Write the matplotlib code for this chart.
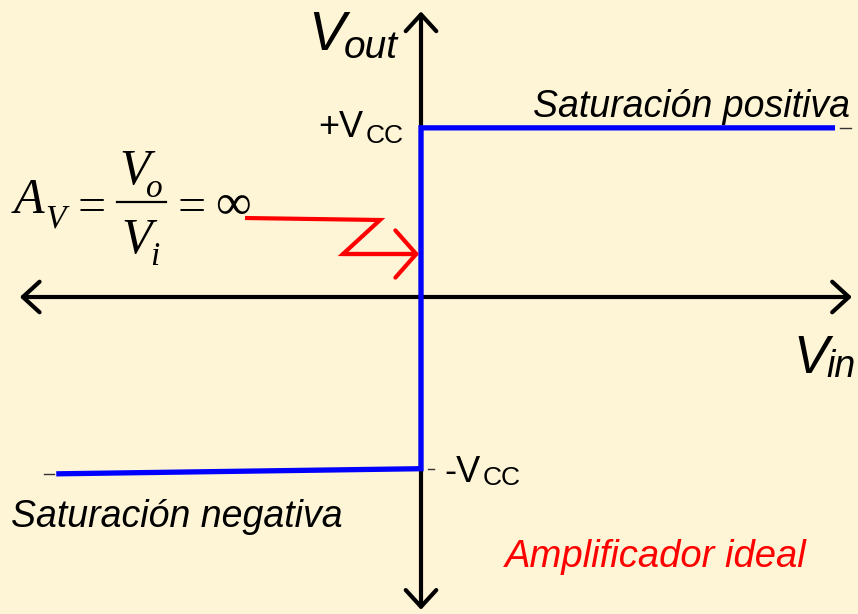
import matplotlib
matplotlib.use("Agg")
import matplotlib.pyplot as plt
from matplotlib.transforms import Affine2D

# transfer characteristic of the ideal op-amp (Vcc = 1)
vin = [-2.13, 0.0, 0.0, 2.42]
vout = [-1.04, -1.01, 0.995, 0.995]

# red "gain" arrow path, in figure pixels (top-left origin)
gain_x = [245, 380, 343]
gain_y = [218, 220, 254]
gain_tip = (419, 254)

bg = "#FEF4D6"
fig = plt.figure(figsize=(8.58, 6.14), dpi=100, facecolor=bg)
ax = fig.add_axes([0, 0, 1, 1], facecolor=bg)
ax.set_xlim(-421 / 170, 437 / 170)
ax.set_ylim(-317 / 170, 297 / 170)
ax.axis("off")

# pixel transform for labels
pix = Affine2D().scale(1 / 858, -1 / 614).translate(0, 1) + fig.transFigure

# coordinate axes with open arrow heads
for xy, xytext in [((2.535, 0), (-2.36, 0)), ((0, 1.68), (0, -1.84))]:
    ax.annotate("", xy=xy, xytext=xytext,
                arrowprops=dict(arrowstyle="<->,head_length=0.6,head_width=0.55",
                                mutation_scale=20, lw=3, color="black",
                                shrinkA=0, shrinkB=0))

# transfer curve
ax.plot(vin, vout, color="#0000FF", lw=3.8, solid_joinstyle="miter", zorder=3)

# little dashes at the ends
for (x0, x1, y) in [(44, 54, 474), (840, 851, 128), (428, 434, 469)]:
    ax.plot([x0, x1], [y, y], color="#333333", lw=1, transform=pix)

# red arrow
ax.plot(gain_x + [gain_tip[0] - 5], gain_y + [gain_tip[1]], color="#FF0000",
        lw=3, transform=pix, solid_joinstyle="miter", solid_capstyle="butt")
ax.annotate("", xy=gain_tip, xytext=(gain_x[-1], gain_y[-1]),
            xycoords=pix, textcoords=pix,
            arrowprops=dict(arrowstyle="->,head_length=0.75,head_width=0.85",
                            mutation_scale=20, lw=3, color="#FF0000",
                            shrinkA=0, shrinkB=0))

sans = "Liberation Sans"
# axis names
ax.text(308, 50, "V", fontsize=40, style="italic", family=sans, transform=pix, va="baseline")
ax.text(344, 58, "out", fontsize=28, style="italic", family=sans, transform=pix, va="baseline")
ax.text(793, 373, "V", fontsize=38, style="italic", family=sans, transform=pix, va="baseline")
ax.text(826, 377, "in", fontsize=27, style="italic", family=sans, transform=pix, va="baseline")

# supply levels
ax.text(318, 137, "+V", fontsize=26, family=sans, transform=pix, va="baseline")
ax.text(366, 143, "CC", fontsize=19, family=sans, transform=pix, va="baseline")
ax.text(444, 482, "-V", fontsize=26, family=sans, transform=pix, va="baseline")
ax.text(483, 485, "CC", fontsize=19, family=sans, transform=pix, va="baseline")

# region labels
ax.text(533, 117, "Saturación positiva", fontsize=27, style="italic", family=sans,
        transform=pix, va="baseline")
ax.text(11, 527, "Saturación negativa", fontsize=27, style="italic", family=sans,
        transform=pix, va="baseline")
ax.text(505, 567, "Amplificador ideal", fontsize=27.5, style="italic", family=sans,
        color="#FF0000", transform=pix, va="baseline")

# gain formula, built piece by piece in a Times-like serif
serif = ["Liberation Serif", "DejaVu Serif"]
def ftext(x, y, s, size, italic=True, **kw):
    ax.text(x, y, s, fontsize=size, family=serif, style="italic" if italic else "normal",
            transform=pix, **kw)

ftext(14, 213, "A", 36, va="baseline")
ftext(45, 227, "V", 24, va="baseline")
ftext(77, 203, "=", 36, italic=False, va="center_baseline")
ftext(119, 184, "V", 36, va="baseline")
ftext(146, 197, "o", 24, va="baseline")
ax.plot([117, 166], [202, 202], color="black", lw=1.6, transform=pix)
ftext(121, 253, "V", 36, va="baseline")
ftext(150, 265, "i", 24, va="baseline")
ftext(177, 203, "=", 36, italic=False, va="center_baseline")
ftext(215, 201, "∞", 36, italic=False, va="center_baseline")

fig.savefig("out.png", dpi=100, facecolor=bg)
